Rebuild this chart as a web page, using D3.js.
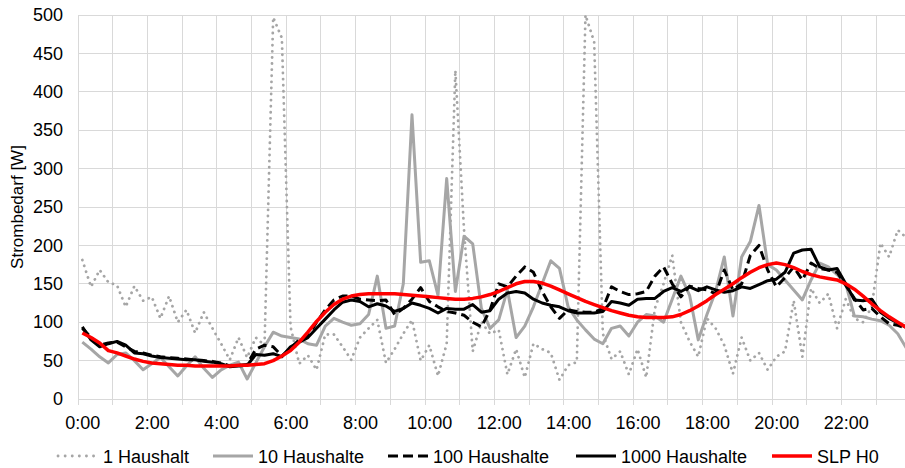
<!DOCTYPE html>
<html><head><meta charset="utf-8">
<script src="https://cdn.jsdelivr.net/npm/d3@7"></script>
<style>body{margin:0;background:#fff}svg{display:block;font-family:"Liberation Sans",Arial,sans-serif}</style>
</head><body><svg id="c" width="905" height="468"></svg>
<script>
// 96 quarter-hour categories
const times = d3.range(96).map(i => `${Math.floor(i/4)}:${String((i%4)*15).padStart(2,'0')}`);
const tickLabels = ["0:00","2:00","4:00","6:00","8:00","10:00","12:00","14:00","16:00","18:00","20:00","22:00"];
const yTicks = [0,50,100,150,200,250,300,350,400,450,500];
const seriesNames = ["1 Haushalt","10 Haushalte","100 Haushalte","1000 Haushalte","SLP H0"];

const hh1 = [181,146,168,152,148,120,147,128, 133,105,134,100,116,86,113,92,
  72,51,80,54,80,70,497,470, 94,46,57,38,84,84,68,51,
  80,92,103,47,65,85,103,50, 70,30,72,428,220,62,100,85,
  90,32,65,28,72,65,60,25, 44,48,500,465,85,52,62,32,
  65,28,118,150,187,100,75,55, 105,92,70,33,80,50,60,38,
  55,62,128,55,144,125,137,92, 130,105,100,120,203,185,220,210];
const hh10 = [74,65,55,47,58,60,50,38, 46,54,42,30,43,55,40,28,
  38,44,48,26,47,68,87,82, 80,78,72,70,95,105,100,96,
  98,110,160,92,95,150,370,178, 180,135,287,140,212,202,118,92,
  103,142,80,95,120,150,180,170, 120,103,90,78,72,92,95,82,
  100,110,108,100,130,160,135,77, 110,140,185,108,185,205,252,175,
  168,155,142,129,155,177,172,162, 150,108,107,104,102,96,85,66];
const hh100 = [92,80,70,73,74,68,62,60, 57,55,54,53,52,51,50,49,
  47,43,44,45,65,70,68,56, 66,77,81,100,116,129,134,134,
  130,129,128,129,110,118,130,145, 127,120,114,112,109,100,94,116,
  150,146,160,172,165,140,120,105, 116,114,113,113,118,146,140,136,
  137,140,160,172,150,133,147,144, 142,137,168,142,150,187,200,168,
  146,158,172,155,177,170,168,165, 148,131,116,118,107,98,96,92];
const hh1000 = [94,77,68,72,75,70,60,59, 56,54,53,52,51,51,49,48,
  46,42,43,44,58,57,59,55, 68,74,80,92,104,116,126,129,
  127,120,124,121,114,118,125,122, 118,112,118,117,117,123,113,115,
  130,138,140,138,130,125,122,120, 115,112,112,112,114,127,125,122,
  130,131,131,140,145,140,146,141, 146,142,139,141,146,144,149,154,
  156,165,190,194,195,172,168,170, 150,129,128,130,113,105,99,93];
const slp = [86,80,73,63,60,56,52,49, 47,46,45,44,44,43,43,43,
  43,43,44,44,45,46,50,56, 63,74,87,101,113,123,130,134,
  136,137,137,137,137,136,135,134, 133,132,131,130,130,131,133,136,
  140,145,150,153,153,151,147,142, 137,132,127,123,119,115,112,109,
  107,106,106,106,107,110,115,121, 128,136,143,150,158,165,171,175,
  177,175,171,166,162,159,157,155, 150,143,134,124,115,107,100,93];

const styles = [
  {color:"#a6a6a6", width:2.8, dash:"0.1 6", cap:"round"},
  {color:"#a6a6a6", width:3, dash:null, cap:"butt"},
  {color:"#000000", width:3, dash:"9 5", cap:"butt"},
  {color:"#000000", width:3, dash:null, cap:"butt"},
  {color:"#ff0000", width:3.5, dash:null, cap:"butt"}
];
const seriesValues = [hh1, hh10, hh100, hh1000, slp];

const svg = d3.select("#c");
const catW = 8.675;
const x = d3.scaleLinear().domain([0, 96]).range([78, 78 + 96*catW]);
const y = d3.scaleLinear().domain([0, 500]).range([399, 15]);

// grid
const g = svg.append("g");
g.selectAll(".hg").data(yTicks).join("line")
  .attr("x1", 78).attr("x2", x(96)).attr("y1", d => y(d)).attr("y2", d => y(d))
  .attr("stroke", "#d9d9d9").attr("stroke-width", 1).attr("shape-rendering","crispEdges");
g.selectAll(".vg").data(d3.range(0, 25)).join("line")
  .attr("x1", d => x(d*4)).attr("x2", d => x(d*4)).attr("y1", y(500)).attr("y2", y(0) + 6)
  .attr("stroke", "#d9d9d9").attr("stroke-width", 1).attr("shape-rendering","crispEdges");

// axes
const xAxis = d3.axisBottom(x)
  .tickValues(tickLabels.map((t, k) => k*8 + 0.5))
  .tickFormat((d, k) => tickLabels[k]).tickSize(0).tickPadding(17);
const ax = svg.append("g").attr("transform", `translate(0,${y(0)})`).call(xAxis);
ax.select(".domain").remove();
ax.selectAll("text").attr("font-size", 18).attr("fill", "#000").attr("font-family", '"Liberation Sans",Arial,sans-serif');

const yAxis = d3.axisLeft(y).tickValues(yTicks).tickSize(0).tickPadding(15);
const ay = svg.append("g").attr("transform", `translate(78,0)`).call(yAxis);
ay.select(".domain").remove();
ay.selectAll("text").attr("font-size", 18).attr("fill", "#000").attr("font-family", '"Liberation Sans",Arial,sans-serif');

svg.append("text").attr("transform", "translate(23,207) rotate(-90)")
  .attr("text-anchor", "middle").attr("font-size", 17).attr("fill", "#000")
  .text("Strombedarf [W]");

// lines
const line = d3.line().x((d, i) => x(i + 0.5)).y(d => y(d));
seriesValues.forEach((vals, k) => {
  const s = styles[k];
  const p = svg.append("path").datum(vals).attr("d", line)
    .attr("fill", "none").attr("stroke", s.color).attr("stroke-width", s.width)
    .attr("stroke-linejoin", "round").attr("stroke-linecap", s.cap);
  if (s.dash) p.attr("stroke-dasharray", s.dash);
});

// legend
const legX = [58, 213, 388, 576, 772];
const legend = svg.append("g");
seriesNames.forEach((name, k) => {
  const s = styles[k];
  const l = legend.append("line").attr("x1", legX[k]).attr("x2", legX[k] + 40)
    .attr("y1", 456).attr("y2", 456).attr("stroke", s.color).attr("stroke-width", s.width)
    .attr("stroke-linecap", s.cap);
  if (s.dash) l.attr("stroke-dasharray", k === 0 ? "0.1 7" : "10 5");
  legend.append("text").attr("x", legX[k] + 45).attr("y", 462.5)
    .attr("font-size", 18).attr("fill", "#000").text(name);
});
</script></body></html>
